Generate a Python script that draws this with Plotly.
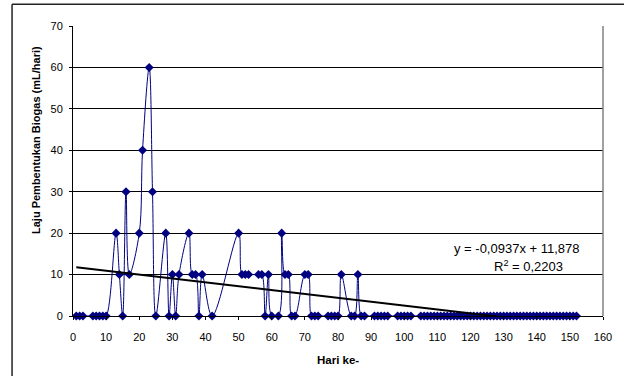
import plotly.graph_objects as go

# Data
days = [1, 2, 3, 6, 7, 8, 9, 10, 13, 14, 15, 16, 17, 20, 21, 23, 24, 25, 28, 29,
        30, 31, 32, 35, 36, 37, 38, 39, 42, 50, 51, 52, 53, 56, 57, 58, 59, 60, 62, 63,
        64, 65, 66, 67, 70, 71, 72, 73, 74, 77, 78, 79, 80, 81, 84, 85, 86, 87, 88,
        91, 92, 93, 94, 95, 98, 99, 100, 101, 102,
        105, 106, 107, 108, 109, 110, 111, 112, 113, 114, 115, 116, 117, 118, 119, 120,
        121, 122, 123, 124, 125, 126, 127, 128, 129, 130, 131, 132, 133, 134, 135, 136,
        137, 138, 139, 140, 141, 142, 143, 144, 145, 146, 147, 148, 149, 150, 151, 152]
rates = [0, 0, 0, 0, 0, 0, 0, 0, 20, 10, 0, 30, 10, 20, 40, 60, 30, 0, 20, 0,
         10, 0, 10, 20, 10, 10, 0, 10, 0, 20, 10, 10, 10, 10, 10, 0, 10, 0, 0, 20,
         10, 10, 0, 0, 10, 10, 0, 0, 0, 0, 0, 0, 0, 10, 0, 0, 10, 0, 0,
         0, 0, 0, 0, 0, 0, 0, 0, 0, 0,
         0, 0, 0, 0, 0, 0, 0, 0, 0, 0, 0, 0, 0, 0, 0, 0,
         0, 0, 0, 0, 0, 0, 0, 0, 0, 0, 0, 0, 0, 0, 0, 0,
         0, 0, 0, 0, 0, 0, 0, 0, 0, 0, 0, 0, 0, 0, 0, 0]

trend_slope = -0.0937
trend_intercept = 11.878
trend_x = [days[0], days[-1]]
trend_y = [trend_slope * v + trend_intercept for v in trend_x]

x_ticks = [0, 10, 20, 30, 40, 50, 60, 70, 80, 90, 100, 110, 120, 130, 140, 150, 160]
y_ticks = [0, 10, 20, 30, 40, 50, 60, 70]

FONT = "Arial, Liberation Sans, sans-serif"

fig = go.Figure()
fig.add_trace(go.Scatter(
    x=days, y=rates, mode="lines+markers",
    line=dict(color="#000080", width=1, shape="spline", smoothing=1),
    marker=dict(symbol="diamond", size=7, color="#000080"),
    cliponaxis=False, showlegend=False))
fig.add_trace(go.Scatter(
    x=trend_x, y=trend_y, mode="lines",
    line=dict(color="#000000", width=2), showlegend=False))

fig.update_layout(
    width=624, height=376,
    margin=dict(l=73, r=15, t=26, b=60),
    paper_bgcolor="white", plot_bgcolor="white",
    font=dict(family=FONT, size=11, color="#000"),
    xaxis=dict(range=[0, 160], tickvals=x_ticks, ticktext=[str(t) for t in x_ticks],
               showgrid=False, zeroline=False, showline=True, linecolor="#000", linewidth=1,
               ticks="outside", ticklen=3, tickcolor="#000", tickfont=dict(size=11),
               ticklabelstandoff=8),
    yaxis=dict(range=[0, 70], tickvals=y_ticks, ticktext=[str(t) for t in y_ticks],
               showgrid=True, gridcolor="#000", gridwidth=1, zeroline=False,
               showline=True, linecolor="#000", linewidth=1,
               ticks="outside", ticklen=3, tickcolor="#000", tickfont=dict(size=11),
               ticklabelstandoff=4),
    shapes=[
        dict(type="line", xref="paper", yref="paper", x0=1, x1=1, y0=0, y1=1,
             line=dict(color="#808080", width=1.5)),
        dict(type="line", xref="paper", yref="paper", x0=-0.115, x1=1.05, y0=1.075, y1=1.075,
             line=dict(color="#222", width=1.5)),
        dict(type="line", xref="paper", yref="paper", x0=-0.115, x1=-0.115, y0=-0.25, y1=1.075,
             line=dict(color="#222", width=1.5)),
    ],
    annotations=[
        dict(text="<b>Laju Pembentukan Biogas (mL/hari)</b>", xref="paper", yref="paper",
             x=-0.0684, y=0.606, xanchor="center", yanchor="middle", textangle=-90,
             showarrow=False, font=dict(size=11, family=FONT)),
        dict(text="<b>Hari ke-</b>", xref="paper", yref="paper", x=0.5, y=-0.1516,
             xanchor="center", yanchor="middle",
             showarrow=False, font=dict(size=11.5, family=FONT)),
        dict(text="y = -0,0937x + 11,878", xref="x", yref="y", x=134.0, y=16.4,
             xanchor="center", yanchor="middle",
             showarrow=False, font=dict(size=13, family=FONT)),
        dict(text="R<sup>2</sup> = 0,2203", xref="x", yref="y", x=137.6, y=12.0,
             xanchor="center", yanchor="middle",
             showarrow=False, font=dict(size=13, family=FONT)),
    ],
)

fig.write_html(
    "out.html",
    config={"displayModeBar": False},
    post_script="document.body.style.margin='0';document.body.style.overflow='hidden';",
)
